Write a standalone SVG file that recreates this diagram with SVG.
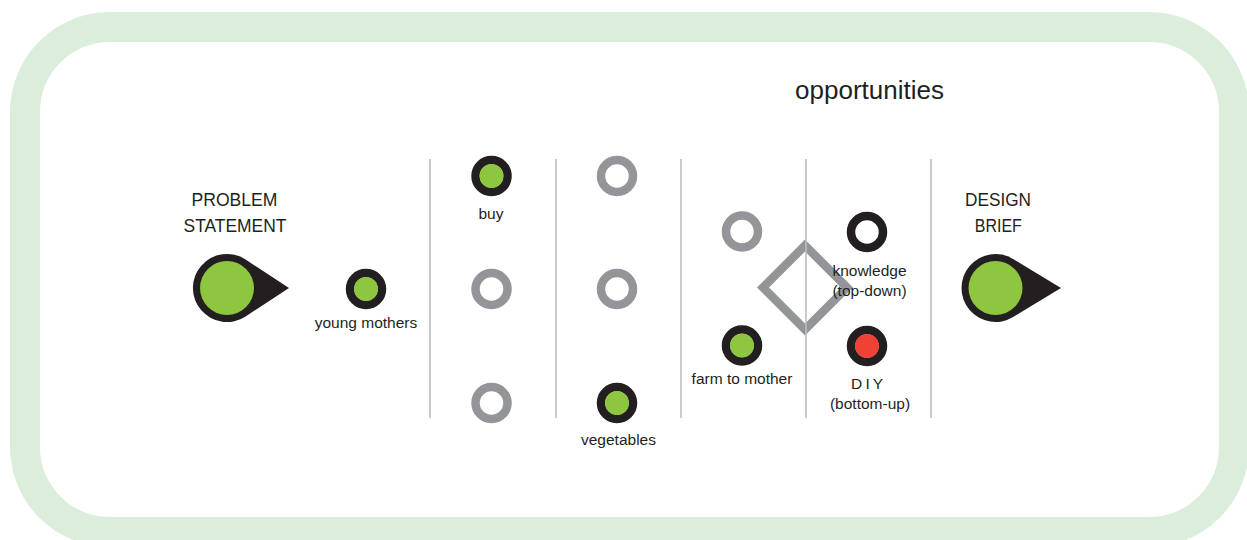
<svg xmlns="http://www.w3.org/2000/svg" width="1247" height="540" viewBox="0 0 1247 540">
<style>
.t{font-family:"Liberation Sans",Arial,sans-serif;fill:#231f20;text-anchor:middle}
.lbl{font-size:15.5px}
.big{font-size:19px}
.vl{stroke:#bcbec0;stroke-width:1.6}
.ring{fill:#fff;stroke-width:8.5}
.g{stroke:#939598}
.k{stroke:#231f20}
.fg{fill:#8dc63f}
.fr{fill:#ef4136}
</style>
<rect width="1247" height="540" fill="#fff"/>
<rect x="25" y="27" width="1209" height="505" rx="85" ry="85" fill="#fff" stroke="#daeedb" stroke-width="30"/>
<text class="t" x="869.5" y="99" font-size="26">opportunities</text>
<g id="dividers">
<line class="vl" x1="430" y1="159" x2="430" y2="418"/>
<line class="vl" x1="556" y1="159" x2="556" y2="418"/>
<line class="vl" x1="681" y1="159" x2="681" y2="418"/>
<line class="vl" x1="931" y1="159" x2="931" y2="418"/>
</g>
<g id="diamond">
<path d="M805 245.5 L847 287.5 L805 329.5 L763 287.5 Z" fill="none" stroke="#939598" stroke-width="8.5"/>
</g>
<line class="vl" x1="806" y1="159" x2="806" y2="418"/>
<g id="problem-statement">
<path d="M245.6 259.6 L289 288 L245.6 316.4 A34 34 0 1 1 245.6 259.6 Z" fill="#231f20"/>
<circle class="fg" cx="227" cy="288" r="27"/>
<text class="t big" x="234.5" y="206" textLength="86" lengthAdjust="spacingAndGlyphs">PROBLEM</text>
<text class="t big" x="235" y="231.5" textLength="103" lengthAdjust="spacingAndGlyphs">STATEMENT</text>
</g>
<g id="young-mothers">
<circle class="ring k" cx="366" cy="289" r="16"/>
<circle class="fg" cx="366" cy="289" r="12"/>
<text class="t lbl" x="366" y="327.5">young mothers</text>
</g>
<g id="buy">
<circle class="ring k" cx="491.5" cy="176" r="16"/>
<circle class="fg" cx="491.5" cy="176" r="12"/>
<text class="t lbl" x="491" y="218.5">buy</text>
</g>
<g id="c1-mid"><circle class="ring g" cx="491.5" cy="289" r="16"/></g>
<g id="c1-low"><circle class="ring g" cx="491.5" cy="403" r="16"/></g>
<g id="c2-top"><circle class="ring g" cx="617" cy="176" r="16"/></g>
<g id="c2-mid"><circle class="ring g" cx="617" cy="289" r="16"/></g>
<g id="vegetables">
<circle class="ring k" cx="617" cy="403" r="16"/>
<circle class="fg" cx="617" cy="403" r="12"/>
<text class="t lbl" x="618.5" y="444.5">vegetables</text>
</g>
<g id="c3-top"><circle class="ring g" cx="742" cy="231.5" r="16"/></g>
<g id="farm-to-mother">
<circle class="ring k" cx="742" cy="345.5" r="16"/>
<circle class="fg" cx="742" cy="345.5" r="12"/>
<text class="t lbl" x="742" y="384">farm to mother</text>
</g>
<g id="knowledge">
<circle class="ring k" cx="867" cy="232" r="16"/>
<text class="t lbl" x="869.5" y="276">knowledge</text>
<text class="t lbl" x="869.5" y="296">(top-down)</text>
</g>
<g id="diy">
<circle class="ring k" cx="867" cy="346" r="16"/>
<circle class="fr" cx="867" cy="346" r="12"/>
<text class="t lbl" x="867" y="388.5" word-spacing="-1">D I Y</text>
<text class="t lbl" x="870" y="408.5">(bottom-up)</text>
</g>
<g id="design-brief">
<path d="M1013.1 258.9 L1061 288 L1013.1 317.1 A34 34 0 1 1 1013.1 258.9 Z" fill="#231f20"/>
<circle class="fg" cx="995.5" cy="288" r="27"/>
<text class="t big" x="998" y="206" textLength="66" lengthAdjust="spacingAndGlyphs">DESIGN</text>
<text class="t big" x="998.3" y="231.5" textLength="47" lengthAdjust="spacingAndGlyphs">BRIEF</text>
</g>
</svg>
